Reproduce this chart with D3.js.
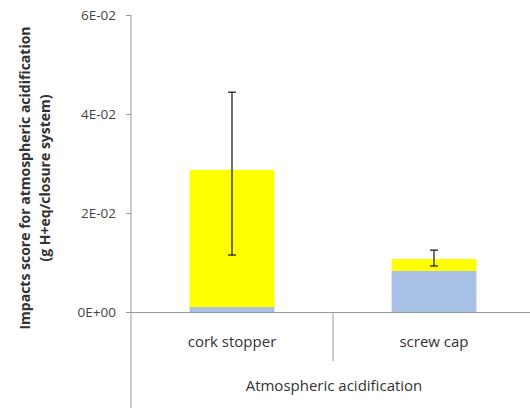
<!DOCTYPE html>
<html><head><meta charset="utf-8">
<script src="https://cdn.jsdelivr.net/npm/d3@7"></script>
<style>body{margin:0;background:#fff;} text{font-family:"Open Sans",sans-serif;}</style>
</head><body><svg id="c" width="530" height="408"></svg>
<script>
const categories = ["cork stopper", "screw cap"];
const blueValues = [0.0010, 0.0083];
const yellowValues = [0.0277, 0.0024];
const errLow = [0.0115, 0.0093];
const errHigh = [0.0444, 0.0125];
const yTicks = [0, 0.02, 0.04, 0.06];
const yTickLabels = ["0E+00", "2E-02", "4E-02", "6E-02"];
const groupLabel = "Atmospheric acidification";

const svg = d3.select("#c");
const x = d3.scaleBand().domain(categories).range([131, 535]).paddingInner(0).paddingOuter(0);
const y = d3.scaleLinear().domain([0, 0.06]).range([312, 15]);
const bw = x.bandwidth() * 0.42;
const cx = c => x(c) + x.bandwidth() / 2;

// y axis
const yAxis = d3.axisLeft(y).tickValues(yTicks).tickSize(5).tickFormat((d, i) => yTickLabels[i]);
const ga = svg.append("g").attr("transform", "translate(131,0)").call(yAxis);
ga.select(".domain").remove();
ga.selectAll("line").attr("stroke", "#999");
ga.selectAll("text").attr("fill", "#444").attr("font-size", 13.5).attr("x", -15);
svg.append("line").attr("x1", 131).attr("x2", 131).attr("y1", 15).attr("y2", 408).attr("stroke", "#999");

// bars
svg.selectAll("rect.blue").data(categories).enter().append("rect")
  .attr("x", c => cx(c) - bw / 2).attr("width", bw)
  .attr("y", (c, i) => y(blueValues[i])).attr("height", (c, i) => y(0) - y(blueValues[i]))
  .attr("fill", "#a8c0e4");
svg.selectAll("rect.yellow").data(categories).enter().append("rect")
  .attr("x", c => cx(c) - bw / 2).attr("width", bw)
  .attr("y", (c, i) => y(blueValues[i] + yellowValues[i]))
  .attr("height", (c, i) => y(blueValues[i]) - y(blueValues[i] + yellowValues[i]))
  .attr("fill", "#ffff00");

// x axis
svg.append("line").attr("x1", 131).attr("x2", 530).attr("y1", 312.5).attr("y2", 312.5).attr("stroke", "#999");
svg.append("line").attr("x1", x(categories[1])).attr("x2", x(categories[1])).attr("y1", 312).attr("y2", 361).attr("stroke", "#999");
svg.selectAll("text.cat").data(categories).enter().append("text")
  .attr("x", c => cx(c)).attr("y", 347).attr("text-anchor", "middle")
  .attr("font-size", 15).attr("fill", "#333").text(c => c);
svg.append("text").attr("x", 334).attr("y", 391).attr("text-anchor", "middle")
  .attr("font-size", 15).attr("fill", "#333").text(groupLabel);

// error bars
const eb = svg.append("g").attr("stroke", "#222").attr("stroke-width", 1.3);
categories.forEach((c, i) => {
  const xc = cx(c);
  eb.append("line").attr("x1", xc).attr("x2", xc).attr("y1", y(errLow[i])).attr("y2", y(errHigh[i]));
  eb.append("line").attr("x1", xc - 4).attr("x2", xc + 4).attr("y1", y(errLow[i])).attr("y2", y(errLow[i]));
  eb.append("line").attr("x1", xc - 4).attr("x2", xc + 4).attr("y1", y(errHigh[i])).attr("y2", y(errHigh[i]));
});

// y title
const t = svg.append("text").attr("transform", "translate(0,178) rotate(-90)")
  .attr("text-anchor", "middle").attr("font-size", 14).attr("font-weight", "bold").attr("fill", "#333");
t.append("tspan").attr("x", 0).attr("y", 30).text("Impacts score for atmospheric acidification");
t.append("tspan").attr("x", 0).attr("y", 50).text("(g H+eq/closure system)");
</script></body></html>
